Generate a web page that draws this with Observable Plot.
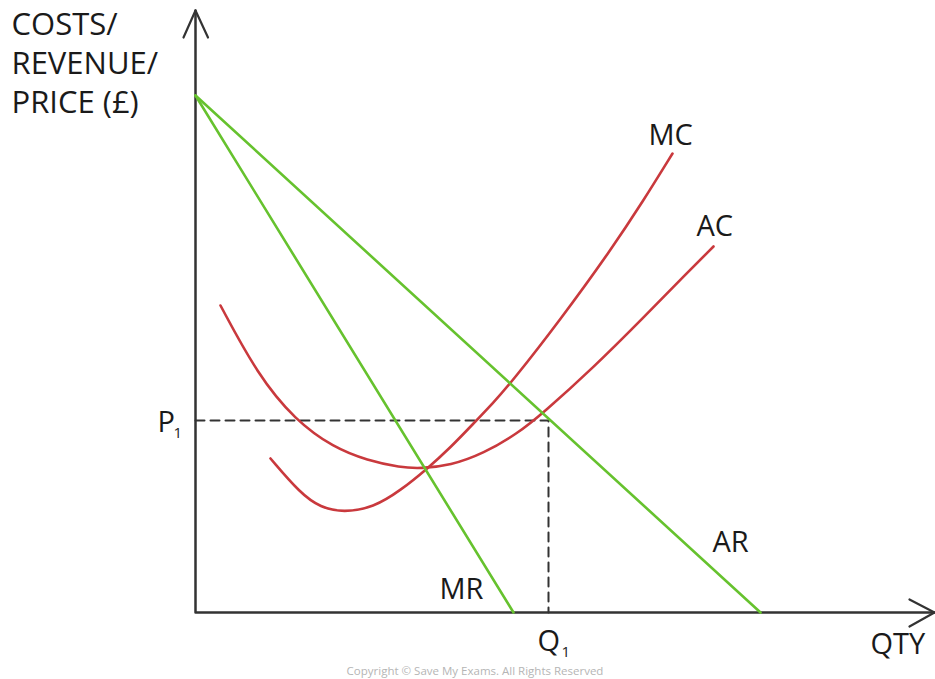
<!DOCTYPE html>
<html>
<head>
<meta charset="utf-8">
<script src="https://cdn.jsdelivr.net/npm/d3@7"></script>
<script src="https://cdn.jsdelivr.net/npm/@observablehq/plot@0.6"></script>
<style>
  html, body { margin: 0; padding: 0; background: #fff; }
  #chart { position: relative; width: 935px; height: 679px; }
  .copy { position: absolute; left: 0; width: 950px; top: 663px; text-align: center;
          font: 11.5px "Open Sans", sans-serif; color: #b5b5b5; }
</style>
</head>
<body>
<div id="chart"></div>
<script>
// Curves (quantity, £), arbitrary units
const arLine = [[0, 51.7], [56.5, 0]];
const mrLine = [[0, 51.7], [31.8, 0]];
const mcCurve = [[7.5,15.4],[10.5,11.9],[12.5,10.5],[14.8,10.0],[17.8,10.5],[20.5,12.2],[23.2,14.4],[25.5,16.5],[27.8,18.9],[29.8,21.0],[31.5,22.9],[36.5,29.3],[41.5,36.2],[44.8,41.2],[47.7,45.9]];
const acCurve = [[2.5,30.7],[6.2,23.8],[10.0,19.2],[13.8,16.5],[17.2,15.2],[20.5,14.5],[22.5,14.4],[25.5,14.7],[28.8,15.9],[32.2,17.9],[34.7,19.9],[39.8,24.5],[44.8,29.5],[49.2,34.0],[51.8,36.6]];
const P1 = 19.2;
const Q1 = 35.3;
const yMax = 60.2;
const xMax = 73.9;
const yTitle = "COSTS/\nREVENUE/\nPRICE (£)";
const curveNames = ["MC", "AC", "AR", "MR"];
const xName = "QTY";

const GREEN = "#66c22e", RED = "#c9393d", AXIS = "#333";
const FONT = "Open Sans";

const lbl = (txt, x, y, opts = {}) => Plot.text([txt], {x: () => x, y: () => y, text: d => d,
  fontFamily: FONT, fontSize: 29, fill: "#1a1a1a", textAnchor: "start", lineAnchor: "bottom", ...opts});

const chart = Plot.plot({
  width: 935, height: 679,
  marginLeft: 0, marginRight: 0, marginTop: 0, marginBottom: 0,
  x: {domain: [-19.5, 74], range: [0, 935], axis: null},
  y: {domain: [-6.7, 61.2], range: [679, 0], axis: null},
  marks: [
    // dashed guides
    Plot.line([[0, P1], [Q1, P1], [Q1, 0]], {x: d => d[0], y: d => d[1], stroke: AXIS, strokeWidth: 2, strokeDasharray: "9,6"}),
    // axes
    Plot.line([[0, yMax], [0, 0], [xMax, 0]], {x: d => d[0], y: d => d[1], stroke: AXIS, strokeWidth: 2.5}),
    Plot.line([[-1.2, yMax - 2.7], [0, yMax], [1.25, yMax - 2.7]], {x: d => d[0], y: d => d[1], stroke: AXIS, strokeWidth: 2.2}),
    Plot.line([[xMax - 2.5, 1.3], [xMax, 0], [xMax - 2.5, -1.4]], {x: d => d[0], y: d => d[1], stroke: AXIS, strokeWidth: 2.2}),
    // cost curves
    Plot.line(acCurve, {x: d => d[0], y: d => d[1], stroke: RED, strokeWidth: 2.6, curve: "basis"}),
    Plot.line(mcCurve, {x: d => d[0], y: d => d[1], stroke: RED, strokeWidth: 2.6, curve: "basis"}),
    // revenue lines
    Plot.line(arLine, {x: d => d[0], y: d => d[1], stroke: GREEN, strokeWidth: 2.6}),
    Plot.line(mrLine, {x: d => d[0], y: d => d[1], stroke: GREEN, strokeWidth: 2.6}),
    // labels
    Plot.text([yTitle], {x: () => -18.4, y: () => 60.5, text: d => d, fontFamily: FONT, fontSize: 31,
      fill: "#1a1a1a", textAnchor: "start", lineAnchor: "top", lineHeight: 1.26}),
    lbl(curveNames[0], 45.3, 46.8),
    lbl(curveNames[1], 50.1, 37.7),
    lbl(curveNames[2], 51.7, 6.1),
    lbl(curveNames[3], 24.4, 1.4),
    lbl(xName, 67.5, -4.1),
    lbl("P", -3.8, 18.1),
    lbl("1", -2.2, 17.5, {fontSize: 15}),
    lbl("Q", 34.2, -3.8),
    lbl("1", 36.6, -4.4, {fontSize: 15})
  ]
});
document.getElementById("chart").append(chart);
const c = document.createElement("div");
c.className = "copy";
c.textContent = "Copyright © Save My Exams. All Rights Reserved";
document.getElementById("chart").append(c);
</script>
</body>
</html>
